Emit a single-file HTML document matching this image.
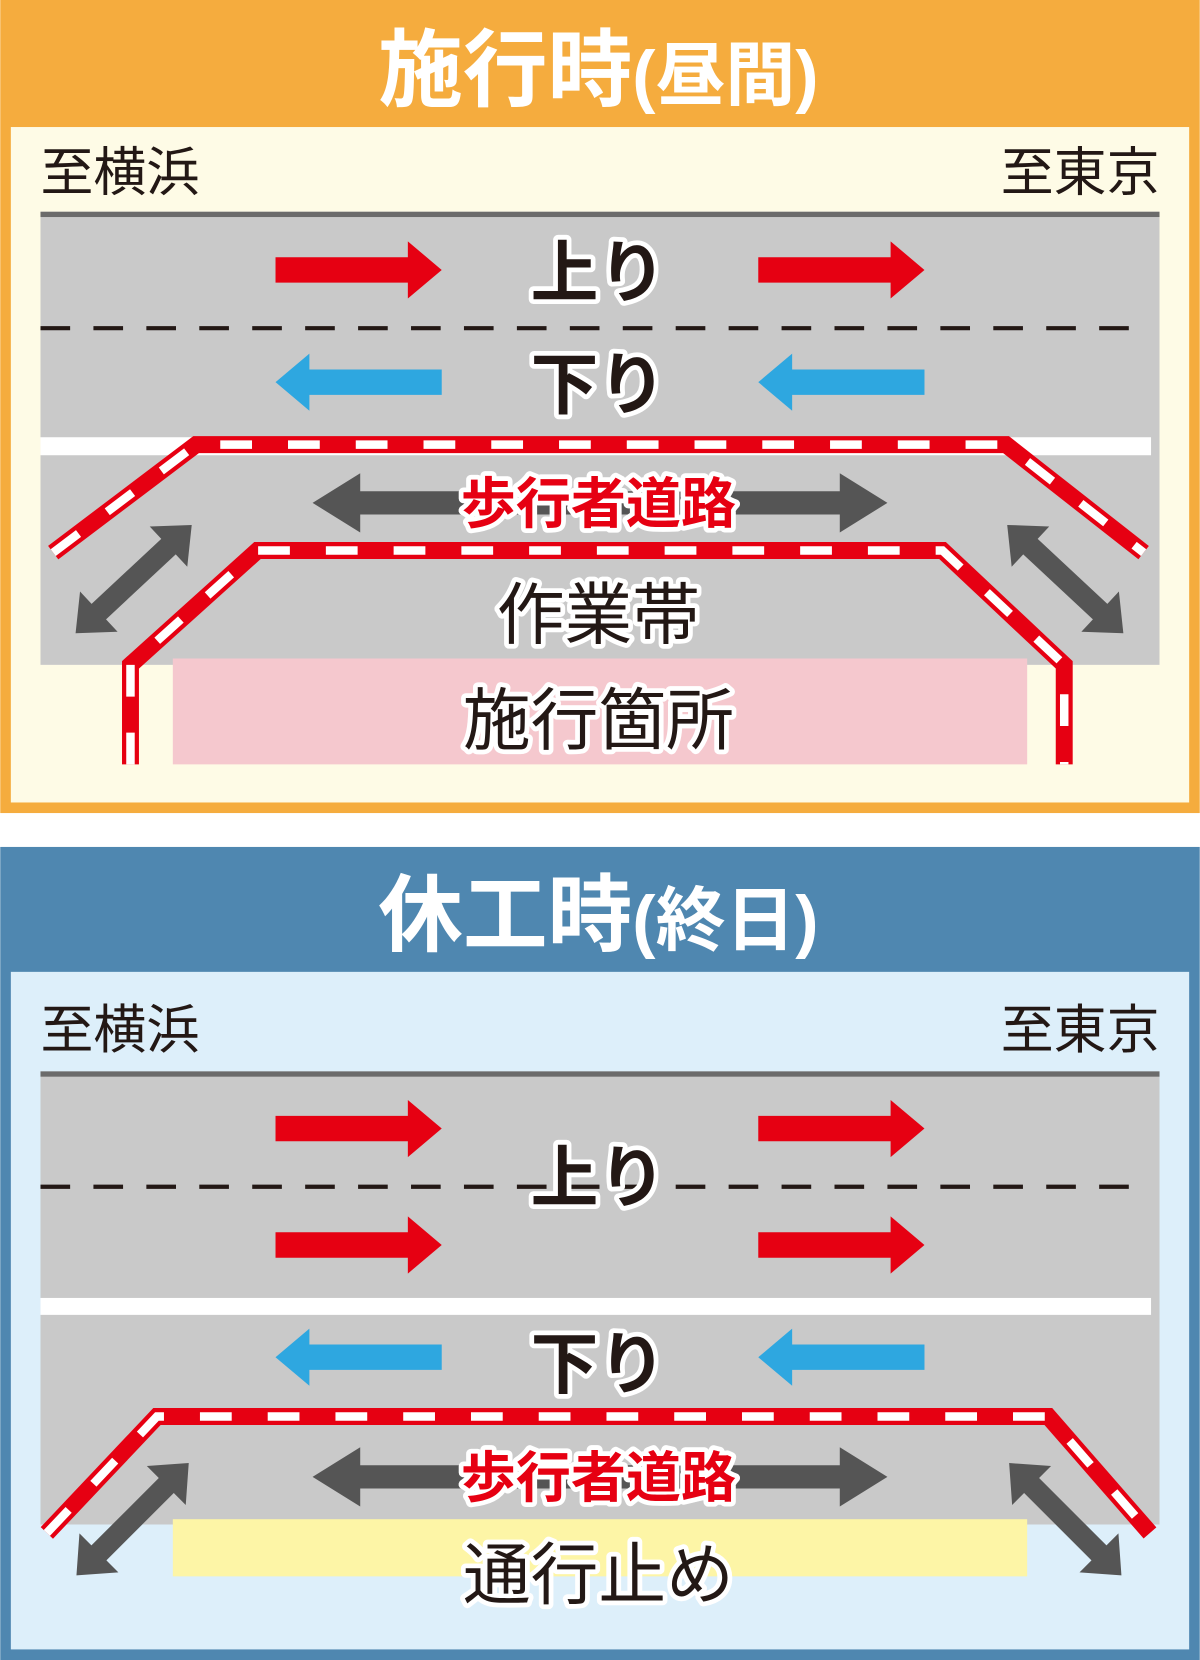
<!DOCTYPE html>
<html><head><meta charset="utf-8"><style>
html,body{margin:0;padding:0;background:#fff}
svg{display:block}
text{font-family:"Liberation Sans","Noto Sans CJK JP",sans-serif}
.b{font-weight:bold}
.n{font-weight:normal}
.lab{paint-order:stroke;stroke:#fff;stroke-width:9;stroke-linejoin:round}
</style></head><body>
<svg width="1200" height="1660" viewBox="0 0 1133 1568" xmlns="http://www.w3.org/2000/svg">
<defs>
<g id="ra"><polygon points="0,-12 125,-12 125,-27 157,0 125,27 125,12 0,12" fill="#E60012"/></g>
<g id="ba"><polygon points="0,-12 -125,-12 -125,-27 -157,0 -125,27 -125,12 0,12" fill="#2EA7E0"/></g>
</defs>
<!-- top panel -->
<rect x="0" y="0" width="1133" height="768" fill="#F5AC3E"/>
<rect x="10" y="120" width="1113" height="638" fill="#FEFBE6"/>
<text class="b" x="565" y="94" fill="#fff" font-size="80" text-anchor="middle">施行時<tspan font-size="66">(昼間)</tspan></text>
<text class="n" x="38" y="180" font-size="50" fill="#231815">至横浜</text>
<text class="n" x="1095" y="180" font-size="50" fill="#231815" text-anchor="end">至東京</text>
<rect x="38" y="200" width="1057" height="428" fill="#C9C9C9"/>
<rect x="38" y="200" width="1057" height="5" fill="#6B6B6B"/>
<line x1="38" y1="310" x2="1080" y2="310" stroke="#231815" stroke-width="4" stroke-dasharray="28 22"/>
<use href="#ra" x="260" y="255"/><use href="#ra" x="716" y="255"/>
<use href="#ba" x="417" y="361"/><use href="#ba" x="873" y="361"/>
<rect x="38" y="413" width="1049" height="17" fill="#fff"/>
<rect x="163" y="622" width="807" height="100" fill="#F5C8CE"/>
<polygon points="295,475 340,447 340,464 793,464 793,447 838,475 793,503 793,486 340,486 340,503" fill="#555"/>
<g transform="translate(126,547) rotate(-43)"><polygon points="-75,0 -45,-26 -45,-10 45,-10 45,-26 75,0 45,26 45,10 -45,10 -45,26" fill="#555"/></g>
<g transform="translate(1006,547) rotate(43)"><polygon points="-75,0 -45,-26 -45,-10 45,-10 45,-26 75,0 45,26 45,10 -45,10 -45,26" fill="#555"/></g>
<g fill="none">
<polyline points="50,522 185,420 950,420 1080,522" stroke="#E60012" stroke-width="16"/>
<polyline points="50,522 185,420 950,420 1080,522" stroke="#fff" stroke-width="8" stroke-dasharray="30 34"/>
<polyline points="123,722 123,628 243,520 890,520 1005,628 1005,722" stroke="#E60012" stroke-width="16"/>
<polyline points="123,722 123,628 243,520 890,520 1005,628 1005,722" stroke="#fff" stroke-width="8" stroke-dasharray="30 34"/>
</g>
<text class="lab b" x="565" y="280" font-size="64" fill="#231815" text-anchor="middle">上り</text>
<text class="lab b" x="565" y="386" font-size="64" fill="#231815" text-anchor="middle">下り</text>
<text class="lab b" x="565" y="494" font-size="52" fill="#E60012" text-anchor="middle">歩行者道路</text>
<text class="lab n" x="565" y="603" font-size="64" fill="#231815" text-anchor="middle">作業帯</text>
<text class="lab n" x="565" y="703" font-size="64" fill="#231815" text-anchor="middle">施行箇所</text>

<!-- bottom panel -->
<rect x="0" y="800" width="1133" height="768" fill="#4F87B0"/>
<rect x="10" y="918" width="1113" height="640" fill="#DDEFFA"/>
<text class="b" x="565" y="892" fill="#fff" font-size="80" text-anchor="middle">休工時<tspan font-size="66">(終日)</tspan></text>
<text class="n" x="38" y="990" font-size="50" fill="#231815">至横浜</text>
<text class="n" x="1095" y="990" font-size="50" fill="#231815" text-anchor="end">至東京</text>
<rect x="38" y="1012" width="1057" height="428" fill="#C9C9C9"/>
<rect x="38" y="1012" width="1057" height="5" fill="#6B6B6B"/>
<line x1="38" y1="1121" x2="1080" y2="1121" stroke="#231815" stroke-width="4" stroke-dasharray="28 22"/>
<use href="#ra" x="260" y="1066"/><use href="#ra" x="716" y="1066"/>
<use href="#ra" x="260" y="1176"/><use href="#ra" x="716" y="1176"/>
<rect x="38" y="1226" width="1049" height="16" fill="#fff"/>
<use href="#ba" x="417" y="1282"/><use href="#ba" x="873" y="1282"/>
<rect x="163" y="1435" width="807" height="54" fill="#FDF5A6"/>
<polygon points="295,1395 340,1367 340,1384 793,1384 793,1367 838,1395 793,1423 793,1406 340,1406 340,1423" fill="#555"/>
<g transform="translate(125,1435) rotate(-45)"><polygon points="-75,0 -45,-26 -45,-10 45,-10 45,-26 75,0 45,26 45,10 -45,10 -45,26" fill="#555"/></g>
<g transform="translate(1006,1435) rotate(45)"><polygon points="-75,0 -45,-26 -45,-10 45,-10 45,-26 75,0 45,26 45,10 -45,10 -45,26" fill="#555"/></g>
<g fill="none">
<polyline points="44,1448 148,1338 990,1338 1086,1448" stroke="#E60012" stroke-width="16"/>
<polyline points="44,1448 148,1338 990,1338 1086,1448" stroke="#fff" stroke-width="8" stroke-dasharray="30 34"/>
</g>
<text class="lab b" x="565" y="1135" font-size="64" fill="#231815" text-anchor="middle">上り</text>
<text class="lab b" x="565" y="1311" font-size="64" fill="#231815" text-anchor="middle">下り</text>
<text class="lab b" x="565" y="1414" font-size="52" fill="#E60012" text-anchor="middle">歩行者道路</text>
<text class="lab n" x="565" y="1510" font-size="64" fill="#231815" text-anchor="middle">通行止め</text>
</svg>
</body></html>
